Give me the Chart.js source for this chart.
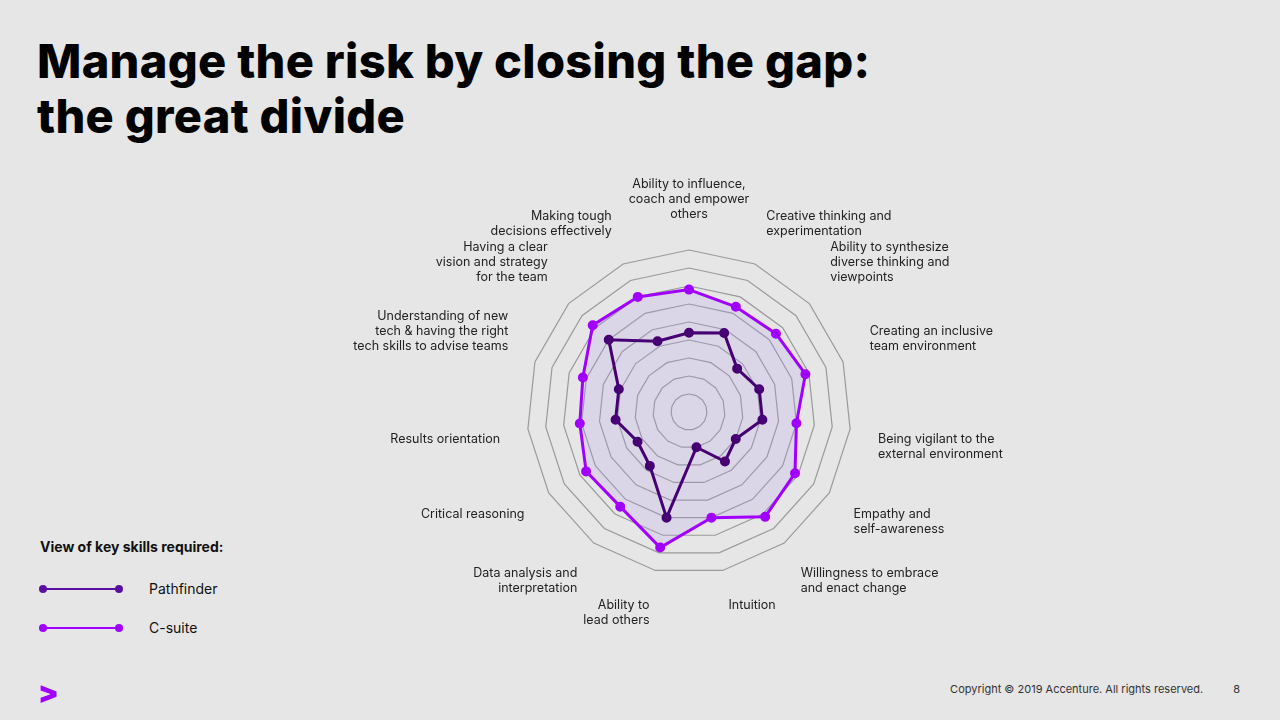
<!DOCTYPE html>
<html>
<head>
<meta charset="utf-8">
<script src="https://cdn.jsdelivr.net/npm/chart.js@4"></script>
<style>
  body { margin: 0; width: 1280px; height: 720px; background: #e6e6e6; font-family: Inter, "Noto Sans", sans-serif; position: relative; overflow: hidden; }
  h1 { position: absolute; left: 37px; top: 33px; margin: 0; font-size: 47px; line-height: 55px; font-weight: 800; color: #000; letter-spacing: 0.3px; }
  #wrap { position: absolute; left: 309px; top: 168px; width: 740px; height: 470px; }
  .legend { position: absolute; left: 40px; top: 538px; font-size: 14px; color: #111; }
  .legend b { display: block; margin-bottom: 14px; }
  .row { display: flex; align-items: center; height: 39px; }
  .sw { position: relative; width: 76px; height: 2px; margin: 0 30px 0 3px; }
  .sw::before, .sw::after { content: ""; position: absolute; top: -3px; width: 8px; height: 8px; border-radius: 50%; background: inherit; }
  .sw::before { left: -4px; } .sw::after { right: -4px; }
  .logo { position: absolute; left: 38px; top: 674px; font-size: 30px; font-weight: 900; color: #a100ff; }
  .copy { position: absolute; right: 40px; top: 682px; font-size: 11px; color: #333; }
  .copy span { margin-left: 30px; }
</style>
</head>
<body>
<h1>Manage the risk by closing the gap:<br>the great divide</h1>
<div id="wrap"><canvas id="radar"></canvas></div>
<div class="legend">
  <b>View of key skills required:</b>
  <div class="row"><div class="sw" style="background:#5a0fa0"></div>Pathfinder</div>
  <div class="row"><div class="sw" style="background:#a100ff"></div>C-suite</div>
</div>
<div class="logo">&gt;</div>
<div class="copy">Copyright © 2019 Accenture. All rights reserved.<span>8</span></div>
<script>
const skills = [
    ['Ability to influence,', 'coach and empower', 'others'],
    ['Creative thinking and', 'experimentation'],
    ['Ability to synthesize', 'diverse thinking and', 'viewpoints'],
    ['Creating an inclusive', 'team environment'],
    ['Being vigilant to the', 'external environment'],
    ['Empathy and', 'self-awareness'],
    ['Willingness to embrace', 'and enact change'],
    'Intuition',
    ['Ability to', 'lead others'],
    ['Data analysis and', 'interpretation'],
    'Critical reasoning',
    'Results orientation',
    ['Understanding of new', 'tech & having the right', 'tech skills to advise teams'],
    ['Having a clear', 'vision and strategy', 'for the team'],
    ['Making tough', 'decisions effectively']
];
const pathfinder = [4.4, 4.8, 3.6, 4.1, 4.1, 3.0, 3.4, 2.0, 6.0, 3.7, 3.3, 4.1, 4.1, 6.0, 4.3];
const csuite = [6.8, 6.4, 6.5, 6.8, 6.0, 6.8, 7.2, 6.0, 7.7, 6.5, 6.6, 6.1, 6.2, 7.2, 7.0];

const ctx = document.getElementById('radar').getContext('2d');
const chart = new Chart(ctx, {
    type: 'radar',
    data: {
        labels: skills,
        datasets: [{
            label: 'Pathfinder',
            data: pathfinder,
            borderColor: '#460073',
            pointBackgroundColor: '#460073',
            backgroundColor: 'rgba(0,0,0,0)',
            borderWidth: 3,
            pointRadius: 3.5,
            fill: false
        }, {
            label: 'C-suite',
            data: csuite,
            borderColor: '#a100ff',
            pointBackgroundColor: '#a100ff',
            backgroundColor: 'rgba(170,150,235,0.2)',
            borderWidth: 3,
            pointRadius: 3.5,
            fill: true
        }]
    },
    options: {
        responsive: true,
        maintainAspectRatio: false,
        animation: false,
        plugins: { legend: { display: false }, tooltip: { enabled: false } },
        scales: {
            r: {
                min: 0,
                max: 9,
                ticks: { display: false, stepSize: 1 },
                grid: { color: '#9a9a9a', lineWidth: 1.2 },
                angleLines: { display: false },
                pointLabels: { color: '#222', padding: 28, font: { family: 'Inter', size: 12.5 } }
            }
        }
    }
});
</script>
</body>
</html>
